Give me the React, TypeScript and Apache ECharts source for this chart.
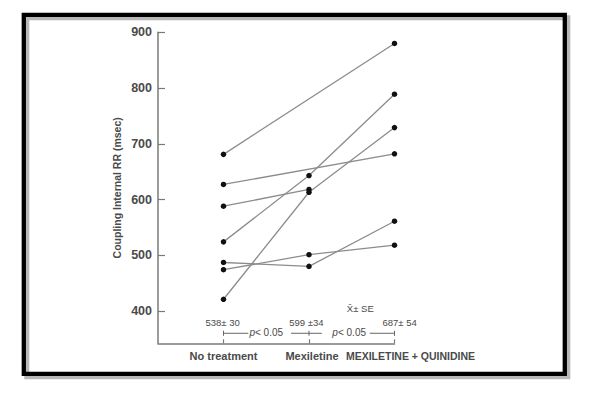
import React, { useEffect, useRef } from "react";
import * as echarts from "echarts";

const categories = ["No treatment", "Mexiletine", "MEXILETINE + QUINIDINE"];
const categoryIndex = [0, 1, 2];
const yTicks = [400, 500, 600, 700, 800, 900];

// each subject: [category index, coupling interval RR (msec)]
const subject1 = [[0, 681], [2, 880]];
const subject2 = [[0, 627], [2, 682]];
const subject3 = [[0, 588], [1, 618]];
const subject4 = [[0, 524], [1, 643], [2, 789]];
const subject5 = [[0, 421], [1, 613], [2, 729]];
const subject6 = [[0, 487], [1, 480], [2, 561]];
const subject7 = [[0, 474], [1, 501], [2, 518]];
const subjects = [subject1, subject2, subject3, subject4, subject5, subject6, subject7];

const means = [538, 599, 687];
const ses = [30, 34, 54];
const pValues = ["0.05", "0.05"];

const FONT = '"Liberation Sans", Arial, Helvetica, sans-serif';
const TEXT = "#4a4a4a";
const AXIS = "#7a7a7a";

export default function App() {
  const ref = useRef<HTMLDivElement>(null);
  useEffect(() => {
    document.body.style.margin = "0";
    const chart = echarts.init(ref.current!, undefined, { renderer: "svg" });
    chart.setOption({
      animation: false,
      backgroundColor: "#ffffff",
      grid: { left: 158, right: 203.5, top: 32.3, bottom: 53.7, containLabel: false },
      xAxis: {
        type: "value",
        min: -0.766,
        max: 2,
        splitLine: { show: false },
        axisLine: { show: true, onZero: false, lineStyle: { color: AXIS, width: 1.5 } },
        axisTick: { show: true, inside: true, length: 4, customValues: categoryIndex, lineStyle: { color: AXIS, width: 1.2 } },
        axisLabel: {
          customValues: categoryIndex,
          showMinLabel: true,
          showMaxLabel: true,
          hideOverlap: false,
          margin: 7,
          formatter: (v: number) => {
            const i = Math.round(v);
            if (i === 2) return "{s|" + categories[i] + "}";
            if (i === 1) return "{m|" + categories[i] + "}";
            return "{n|" + categories[i] + "}";
          },
          rich: {
            n: { fontFamily: FONT, fontSize: 11, fontWeight: "bold", color: TEXT },
            m: { fontFamily: FONT, fontSize: 11, fontWeight: "bold", color: TEXT, padding: [0, 0, 0, 6] },
            s: { fontFamily: FONT, fontSize: 10.5, fontWeight: "bold", color: TEXT, padding: [0, 0, 0, 32] },
          },
        },
      },
      yAxis: {
        type: "value",
        min: 342,
        max: 900,
        name: "Coupling Internal RR (msec)",
        nameLocation: "middle",
        nameGap: 36,
        nameTextStyle: { fontFamily: FONT, fontSize: 10.5, fontWeight: "bold", color: TEXT },
        splitLine: { show: false },
        axisLine: { show: true, onZero: false, lineStyle: { color: AXIS, width: 1.5 } },
        axisTick: { show: true, inside: true, length: 7, customValues: yTicks, lineStyle: { color: AXIS, width: 1.2 } },
        axisLabel: { customValues: yTicks, margin: 6, fontFamily: FONT, fontSize: 12.5, fontWeight: "bold", color: TEXT },
      },
      series: subjects.map((d, i) => ({
        type: "line",
        name: "S" + (i + 1),
        data: d,
        symbol: "circle",
        symbolSize: 5.5,
        itemStyle: { color: "#111111" },
        lineStyle: { color: "#8c8c8c", width: 1.3 },
        z: 2,
      })),
    });

    const px = (x: number, y: number) => chart.convertToPixel({ gridIndex: 0 }, [x, y]) as number[];
    const textStyle = (t: any, extra: any = {}) => ({
      ...t,
      fontFamily: FONT,
      fontSize: 9.5,
      fill: TEXT,
      align: "center",
      verticalAlign: "middle",
      ...extra,
    });
    const yMean = 379;
    const yBr = 360;
    const meanX = [-0.01, -0.03, 0.06];
    const g: any[] = [];
    means.forEach((m, i) => {
      const p = px(i + meanX[i], yMean);
      const txt = i === 1 ? `${m} \u00b1${ses[i]}` : `${m}\u00b1 ${ses[i]}`;
      g.push({ type: "text", x: p[0], y: p[1], style: textStyle({ text: txt }) });
    });
    pValues.forEach((pv, i) => {
      const p = px(i + 0.5 - (i === 1 ? 0.03 : 0), yBr);
      g.push({
        type: "text",
        x: p[0],
        y: p[1] - 0.5,
        style: textStyle({
          text: `{i|p}{n|< ${pv}}`,
          rich: {
            i: { fontFamily: FONT, fontSize: 10, fontStyle: "italic", fill: TEXT },
            n: { fontFamily: FONT, fontSize: 10, fill: TEXT },
          },
        }),
      });
    });
    const brackets = [
      [0, 0.29, 0],
      [0.79, 1.15, 1],
      [1.71, 2.0, 2],
    ];
    brackets.forEach(([a, b, t]) => {
      const p1 = px(a, yBr);
      const p2 = px(b, yBr);
      const pt = px(t, yBr);
      g.push({ type: "line", shape: { x1: p1[0], y1: p1[1], x2: p2[0], y2: p2[1] }, style: { stroke: "#666", lineWidth: 1 } });
      g.push({ type: "line", shape: { x1: pt[0], y1: pt[1] - 2.5, x2: pt[0], y2: pt[1] + 2.5 }, style: { stroke: "#666", lineWidth: 1 } });
    });
    const se = px(1.6, 405);
    g.push({ type: "text", x: se[0], y: se[1], style: textStyle({ text: "X\u0304\u00b1 SE", fontSize: 9.5 }) });
    // frame with shadow
    g.push({ type: "rect", shape: { x: 26.8, y: 17.8, width: 541, height: 359 }, style: { fill: "none", stroke: "rgba(0,0,0,0.28)", lineWidth: 5 }, z: 0 });
    g.push({ type: "rect", shape: { x: 23.8, y: 14.8, width: 541, height: 359 }, style: { fill: "none", stroke: "#000", lineWidth: 4.3 }, z: 1 });
    chart.setOption({ graphic: g });
    return () => chart.dispose();
  }, []);
  return <div ref={ref} style={{ width: 598, height: 397 }} />;
}
